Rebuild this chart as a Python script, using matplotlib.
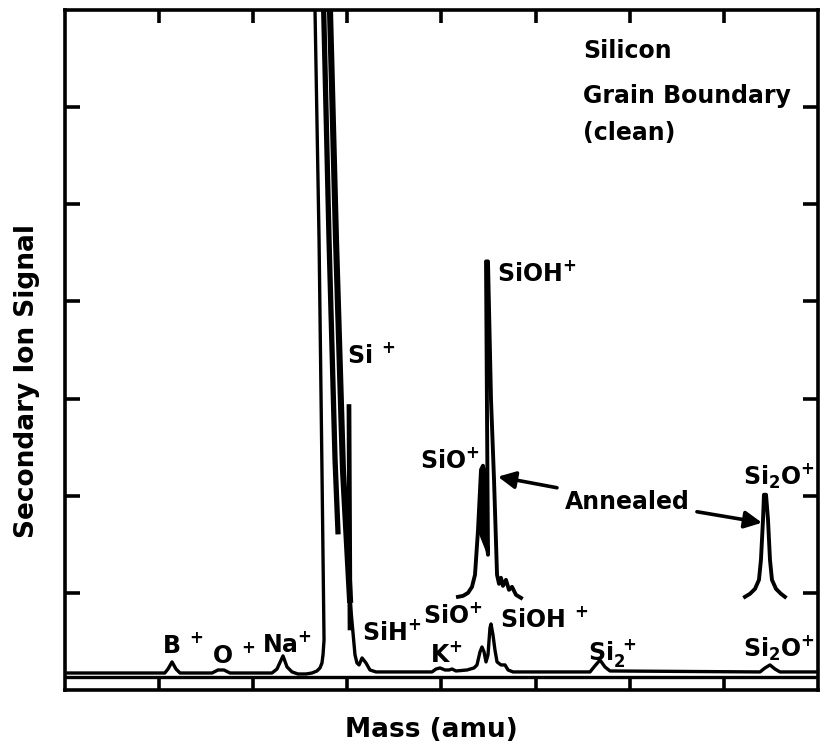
import matplotlib.pyplot as plt

plt.rcParams['font.family'] = ['DejaVu Sans']
plt.rcParams['font.weight'] = 'bold'
plt.rcParams['mathtext.fontset'] = 'dejavusans'

# clean spectrum, x in scan divisions (0-8), y in signal divisions (0-7)
clean_x = [0.03, 1.06, 1.094, 1.137, 1.179, 1.222, 1.562, 1.625, 1.689, 1.753,
           2.199, 2.252, 2.316, 2.359, 2.412, 2.475, 2.560, 2.624, 2.677, 2.709,
           2.730, 2.741, 2.752, 2.730, 2.699, 2.656, 2.645, 2.815, 2.815, 2.879,
           2.953, 3.028, 3.081, 3.102, 3.124, 3.156, 3.198, 3.240, 3.304, 3.899,
           3.942, 3.984, 4.037, 4.080, 4.112, 4.154, 4.271, 4.345, 4.377, 4.409,
           4.430, 4.452, 4.473, 4.494, 4.515, 4.526, 4.547, 4.568, 4.590, 4.632,
           4.675, 4.707, 4.760, 5.578, 5.620, 5.684, 5.737, 5.790, 7.384, 7.437,
           7.490, 7.543, 7.596, 8.0]
clean_y = [0.175, 0.175, 0.216, 0.289, 0.216, 0.175, 0.175, 0.206, 0.206, 0.175,
           0.175, 0.216, 0.351, 0.237, 0.186, 0.165, 0.165, 0.175, 0.196, 0.227,
           0.278, 0.361, 0.515, 2.268, 4.639, 7.010, 7.5, 7.5, 7.010, 4.639,
           2.268, 0.928, 0.361, 0.278, 0.258, 0.330, 0.278, 0.206, 0.186, 0.186,
           0.216, 0.227, 0.206, 0.206, 0.216, 0.196, 0.206, 0.227, 0.258, 0.392,
           0.443, 0.392, 0.289, 0.361, 0.639, 0.680, 0.567, 0.412, 0.289, 0.258,
           0.258, 0.206, 0.186, 0.186, 0.237, 0.309, 0.237, 0.196, 0.186, 0.227,
           0.258, 0.216, 0.186, 0.186]

# extra strokes inside the Si+ peak
si_inner_x = [2.741, 2.805, 2.869, 2.900]
si_inner_y = [7.3, 4.639, 2.371, 1.629]
si_side_x = [3.017, 3.028]
si_side_y = [2.918, 0.639]

# annealed traces (drawn raised)
ann_sio_x = [4.175, 4.229, 4.282, 4.324, 4.356, 4.388, 4.420, 4.441, 4.462, 4.484,
             4.494, 4.484, 4.473, 4.494, 4.526, 4.558, 4.590, 4.611, 4.632, 4.653,
             4.685, 4.717, 4.749, 4.792, 4.845]
ann_sio_y = [0.959, 0.969, 1.000, 1.062, 1.186, 1.649, 2.268, 2.309, 2.165, 1.485,
             1.392, 2.763, 4.412, 4.412, 2.990, 2.165, 1.186, 1.093, 1.155, 1.072,
             1.134, 1.031, 1.062, 0.979, 0.948]
ann_si2o_x = [7.224, 7.277, 7.331, 7.373, 7.394, 7.416, 7.426, 7.448, 7.469, 7.490,
              7.511, 7.554, 7.607, 7.649]
ann_si2o_y = [0.959, 0.990, 1.041, 1.134, 1.340, 1.753, 2.010, 2.010, 1.753, 1.340,
              1.134, 1.041, 0.990, 0.959]

# peak labels: (text, x, baseline y)
peak_labels = [
    (r'$\mathbf{Si^{\ +}}$', 2.996, 3.366),
    (r'$\mathbf{SiOH^{+}}$', 4.590, 4.211),
    (r'$\mathbf{SiO^{+}}$', 3.772, 2.284),
    (r'$\mathbf{Si_{2}O^{+}}$', 7.203, 2.113),
    (r'$\mathbf{B^{\ +}}$', 1.031, 0.381),
    (r'$\mathbf{O^{\ +}}$', 1.562, 0.278),
    (r'$\mathbf{Na^{+}}$', 2.093, 0.392),
    (r'$\mathbf{SiH^{+}}$', 3.155, 0.515),
    (r'$\mathbf{SiO^{+}}$', 3.803, 0.691),
    (r'$\mathbf{K^{+}}$', 3.878, 0.289),
    (r'$\mathbf{SiOH^{\ +}}$', 4.622, 0.649),
    (r'$\mathbf{Si_{2}^{\ +}}$', 5.556, 0.309),
    (r'$\mathbf{Si_{2}O^{+}}$', 7.203, 0.340),
]
title_lines = ['Silicon', 'Grain Boundary', '(clean)']
title_y = [6.510, 6.046, 5.660]

fig = plt.figure(figsize=(8.24, 7.47), dpi=100)
ax = fig.add_axes([0.0789, 0.0763, 0.9138, 0.9103])
ax.set_xlim(0, 8)
ax.set_ylim(0, 7)

ax.plot(clean_x, clean_y, color='black', lw=2.4, solid_joinstyle='round')
ax.plot(si_inner_x, si_inner_y, color='black', lw=3.8)
ax.plot(si_side_x, si_side_y, color='black', lw=3.4)
# right flank of the Si+ peak is drawn heavier
ax.plot(clean_x[26:32], clean_y[26:32], color='black', lw=4.4)
ax.plot(ann_sio_x, ann_sio_y, color='black', lw=2.8, solid_joinstyle='round')
ax.fill(ann_sio_x[5:11], ann_sio_y[5:11], color='black')
ax.plot(ann_si2o_x, ann_si2o_y, color='black', lw=2.8, solid_joinstyle='round')

# strip along the bottom axis
ax.axhline(0.134, color='black', lw=2.4)

for txt, x, y in peak_labels:
    ax.text(x, y, txt, fontsize=17, ha='left', va='baseline')
for txt, y in zip(title_lines, title_y):
    ax.text(5.503, y, txt, fontsize=17, fontweight='bold', ha='left', va='baseline')

ax.text(5.971, 1.938, 'Annealed', fontsize=17, fontweight='bold', ha='center', va='center')
arrow = dict(arrowstyle='-|>', lw=2.6, color='black', mutation_scale=26, shrinkA=0, shrinkB=0)
ax.annotate('', xy=(4.600, 2.196), xytext=(5.227, 2.082), arrowprops=arrow)
ax.annotate('', xy=(7.405, 1.722), xytext=(6.714, 1.835), arrowprops=arrow)

for s in ax.spines.values():
    s.set_linewidth(2.6)
ax.set_xticks(range(1, 8))
ax.set_yticks(range(1, 7))
ax.tick_params(axis='x', direction='in', length=9, width=2.6, top=True, bottom=True,
               labelbottom=False)
ax.tick_params(axis='y', direction='in', length=11, width=2.6, left=True, right=True,
               labelleft=False)

ax.set_xlabel('Mass (amu)', fontsize=19, fontweight='bold')
ax.xaxis.set_label_coords(0.486, -0.040)
ax.set_ylabel('Secondary Ion Signal', fontsize=19, fontweight='bold')
ax.yaxis.set_label_coords(-0.033, 0.454)

fig.savefig('out.png', dpi=100)
